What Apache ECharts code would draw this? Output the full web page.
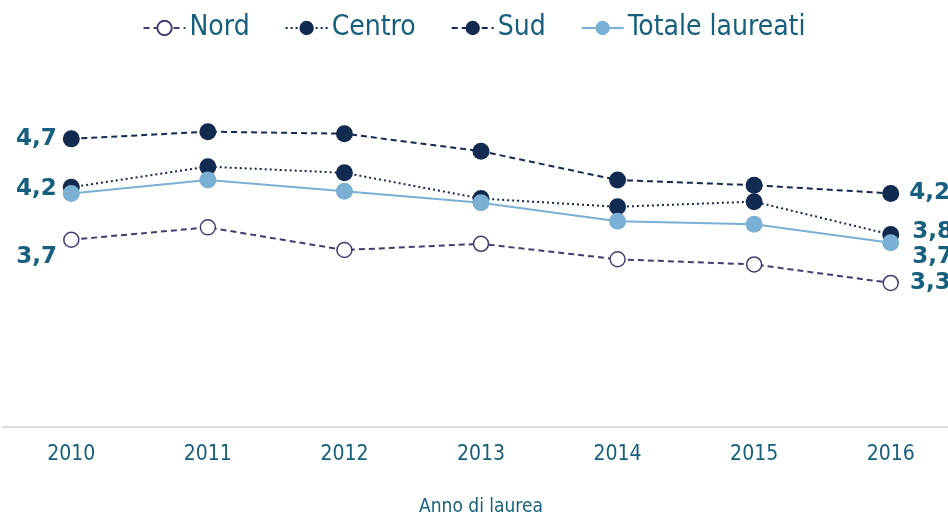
<!DOCTYPE html>
<html>
<head>
<meta charset="utf-8">
<script src="https://cdn.jsdelivr.net/npm/echarts@6/dist/echarts.min.js"></script>
<style>
  html, body { margin: 0; padding: 0; background: #fff; }
  #chart { width: 948px; height: 516px; }
</style>
</head>
<body>
<div id="chart"></div>
<script>
// anni di laurea
const years = ['2010', '2011', '2012', '2013', '2014', '2015', '2016']
// valori
const nord = [3.72, 3.84, 3.62, 3.68, 3.53, 3.48, 3.30]
const centro = [4.23, 4.43, 4.37, 4.12, 4.04, 4.09, 3.77]
const sud = [4.70, 4.77, 4.75, 4.58, 4.30, 4.25, 4.17]
const totale = [4.17, 4.30, 4.19, 4.08, 3.90, 3.87, 3.69]

const textColor = '#17607d'
const labelFont = 'DejaVu Sans'
const legendFont = 'DejaVu Sans Condensed, DejaVu Sans'

function fmt(p) {
  return p.value.toFixed(1).replace('.', ',')
}

// only first / last points carry a label
function withLabels(values, left, right) {
  return values.map((v, i) => {
    const item = { value: v }
    let cfg = null
    if (i === 0 && left) cfg = left
    if (i === values.length - 1 && right) cfg = right
    if (cfg) {
      item.label = {
        show: true,
        position: cfg.position,
        distance: cfg.distance,
        offset: cfg.offset || [0, 0]
      }
    }
    return item
  })
}

const labelStyle = {
  show: false,
  formatter: fmt,
  color: textColor,
  fontFamily: labelFont,
  fontWeight: 'bold',
  fontSize: 23
}

const chart = echarts.init(document.getElementById('chart'))
chart.setOption({
  animation: false,
  legend: {
    top: 9,
    left: 'center',
    itemWidth: 42,
    itemHeight: 18,
    itemGap: 35,
    textStyle: {
      color: textColor,
      fontSize: 28,
      fontFamily: legendFont,
      padding: [0, 0, 0, -1]
    },
    data: ['Nord', 'Centro', 'Sud', 'Totale laureati']
  },
  grid: {
    left: 3,
    right: -11,
    top: 108,
    bottom: 89,
    outerBoundsMode: 'none'
  },
  xAxis: {
    type: 'category',
    data: years,
    boundaryGap: true,
    axisLine: { lineStyle: { color: '#dddddd', width: 2 } },
    axisTick: { show: false },
    axisLabel: {
      color: textColor,
      fontSize: 21,
      fontFamily: legendFont,
      margin: 17
    },
    name: 'Anno di laurea',
    nameLocation: 'middle',
    nameGap: 71,
    nameTextStyle: {
      color: textColor,
      fontSize: 19,
      fontFamily: legendFont
    }
  },
  yAxis: {
    type: 'value',
    min: 1.9,
    max: 5,
    show: false,
    splitLine: { show: false }
  },
  series: [
    {
      name: 'Nord',
      type: 'line',
      data: withLabels(nord,
        { position: 'left', distance: 6, offset: [0, 17] },
        { position: 'right', distance: 11, offset: [0, 0] }),
      symbol: 'circle',
      symbolSize: 15,
      color: '#433d6e',
      itemStyle: { color: '#ffffff', borderColor: '#433d6e', borderWidth: 1.5 },
      lineStyle: { color: '#433d6e', width: 2, type: [6, 4] },
      label: labelStyle,
      z: 2
    },
    {
      name: 'Centro',
      type: 'line',
      data: withLabels(centro,
        { position: 'left', distance: 6, offset: [0, 2] },
        { position: 'right', distance: 13, offset: [0, -3] }),
      symbol: 'circle',
      symbolSize: 17,
      color: '#132a50',
      itemStyle: { color: '#132a50' },
      lineStyle: { color: '#132a50', width: 2, type: [2, 3] },
      label: labelStyle,
      z: 3
    },
    {
      name: 'Sud',
      type: 'line',
      data: withLabels(sud,
        { position: 'left', distance: 6, offset: [0, 0] },
        { position: 'right', distance: 10, offset: [0, 0] }),
      symbol: 'circle',
      symbolSize: 17,
      color: '#132a50',
      itemStyle: { color: '#132a50' },
      lineStyle: { color: '#132a50', width: 2, type: [6, 4] },
      label: labelStyle,
      z: 3
    },
    {
      name: 'Totale laureati',
      type: 'line',
      data: withLabels(totale, null,
        { position: 'right', distance: 13, offset: [0, 14] }),
      symbol: 'circle',
      symbolSize: 17,
      color: '#7ab0d3',
      itemStyle: { color: '#7ab0d3' },
      lineStyle: { color: '#7ab0d3', width: 2 },
      label: labelStyle,
      z: 4
    }
  ]
})
</script>
</body>
</html>
